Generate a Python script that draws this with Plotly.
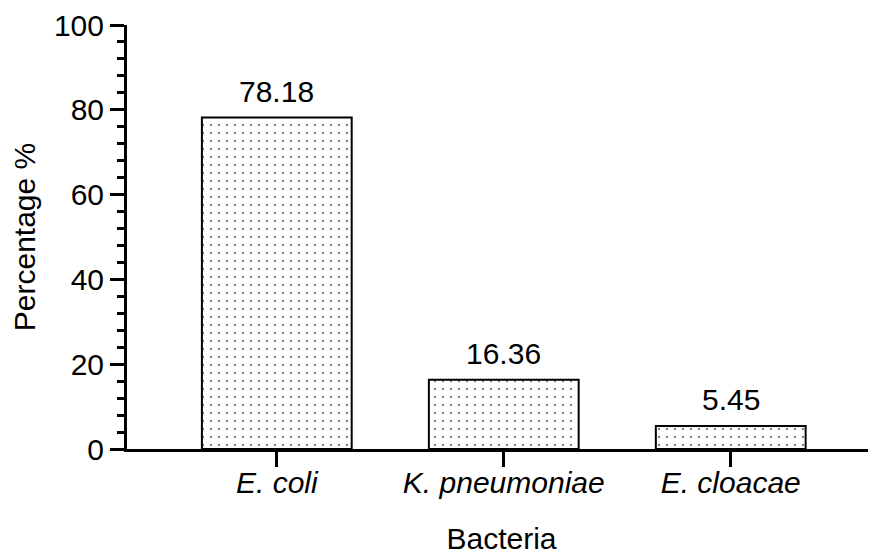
import plotly.graph_objects as go

categories = ["E. coli", "K. pneumoniae", "E. cloacae"]
values = [78.18, 16.36, 5.45]
labels = ["78.18", "16.36", "5.45"]

FONT = "Arial, Liberation Sans, sans-serif"
FS = 30

fig = go.Figure(go.Bar(
    x=categories, y=values,
    cliponaxis=False,
    width=0.66,
    marker=dict(color="white",
                line=dict(color="black", width=2),
                pattern=dict(shape=".", fgcolor="black", bgcolor="white", size=8, solidity=0.07)),
))

for c, v, t in zip(categories, values, labels):
    fig.add_annotation(x=c, y=v, text=t, showarrow=False, yanchor="bottom",
                       yshift=8, font=dict(family=FONT, size=FS, color="black"))

fig.update_layout(
    width=868, height=547,
    paper_bgcolor="white", plot_bgcolor="white",
    margin=dict(l=119, r=0, t=17, b=106),
    font=dict(family=FONT, size=FS, color="black"),
    showlegend=False,
)
fig.update_xaxes(
    range=[-0.66, 2.64],
    showline=True, linecolor="black", linewidth=3,
    ticks="outside", ticklen=15, tickwidth=3, tickcolor="black",
    tickfont=dict(family=FONT, size=FS, color="black", style="italic"),
    ticklabelstandoff=-10,
    showgrid=False, zeroline=False, automargin=False,
    title=dict(text="Bacteria", font=dict(family=FONT, size=FS), standoff=36),
)
fig.update_yaxes(
    range=[0, 100], tickvals=[0, 20, 40, 60, 80, 100],
    showline=True, linecolor="black", linewidth=3,
    ticks="outside", ticklen=14, tickwidth=3, tickcolor="black",
    minor=dict(dtick=4, ticks="outside", ticklen=7, tickwidth=3, tickcolor="black", showgrid=False),
    showgrid=False, zeroline=False, automargin=False,
    title=dict(text="Percentage %", font=dict(family=FONT, size=FS), standoff=20),
)

fig.write_html("out.html")
